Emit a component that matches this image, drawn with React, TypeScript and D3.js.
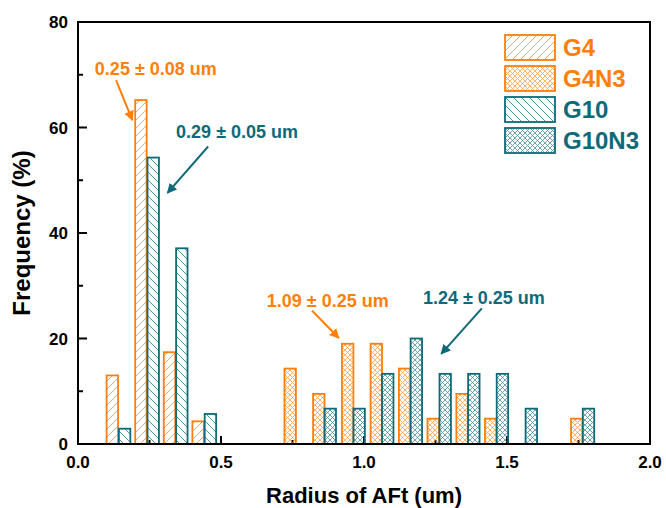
import React from "react";
import * as d3 from "d3";

// Histogram of AFt crystal radius, four mixes
const G4_X = [0.12, 0.22, 0.32, 0.42];
const G4_Y = [13.0, 65.2, 17.4, 4.3];
const G10_X = [0.163, 0.263, 0.363, 0.463];
const G10_Y = [2.9, 54.3, 37.1, 5.7];
const G4N3_X = [0.742, 0.842, 0.943, 1.043, 1.142, 1.242, 1.343, 1.443, 1.744];
const G4N3_Y = [14.3, 9.5, 19.0, 19.0, 14.3, 4.8, 9.5, 4.8, 4.8];
const G10N3_X = [0.882, 0.983, 1.083, 1.183, 1.284, 1.384, 1.484, 1.585, 1.785];
const G10N3_Y = [6.7, 6.7, 13.3, 20.0, 13.3, 13.3, 13.3, 6.7, 6.7];

const X_TICKS = [0, 0.5, 1.0, 1.5, 2.0];
const X_MINOR = [0.25, 0.75, 1.25, 1.75];
const Y_TICKS = [0, 20, 40, 60, 80];
const Y_MINOR = [10, 30, 50, 70];

const SERIES_NAMES = ["G4", "G4N3", "G10", "G10N3"];
const ANNOTATIONS = [
  { text: "0.25 \u00B1 0.08 um", series: "G4", tx: 0.059, ty: 70.0, from: [0.133, 69.0], to: [0.19, 61.4] },
  { text: "0.29 \u00B1 0.05 um", series: "G10", tx: 0.343, ty: 58.0, from: [0.455, 56.4], to: [0.313, 47.6] },
  { text: "1.09 \u00B1 0.25 um", series: "G4N3", tx: 0.66, ty: 26.0, from: [0.818, 25.3], to: [0.912, 20.1] },
  { text: "1.24 \u00B1 0.25 um", series: "G10N3", tx: 1.206, ty: 26.5, from: [1.412, 25.7], to: [1.27, 17.1] },
];

const ORANGE = "#FF7F0A";
const TEAL = "#0E6A79";
const BAR_W = 0.04;

const W = 666;
const H = 508;
const FONT = "'Liberation Sans', Arial, sans-serif";

export default function App() {
  const x = d3.scaleLinear().domain([0, 2]).range([78, 650]);
  const y = d3.scaleLinear().domain([0, 80]).range([444, 22]);

  const series = [
    { name: "G4", xs: G4_X, ys: G4_Y, color: ORANGE, fill: "url(#hatchG4)" },
    { name: "G10", xs: G10_X, ys: G10_Y, color: TEAL, fill: "url(#hatchG10)" },
    { name: "G4N3", xs: G4N3_X, ys: G4N3_Y, color: ORANGE, fill: "url(#crossG4N3)" },
    { name: "G10N3", xs: G10N3_X, ys: G10N3_Y, color: TEAL, fill: "url(#crossG10N3)" },
  ];
  const colorOf: Record<string, string> = { G4: ORANGE, G4N3: ORANGE, G10: TEAL, G10N3: TEAL };
  const fillOf: Record<string, string> = {
    G4: "url(#hatchG4)",
    G4N3: "url(#crossG4N3)",
    G10: "url(#hatchG10)",
    G10N3: "url(#crossG10N3)",
  };
  const bw = x(BAR_W) - x(0);

  return (
    <svg
      width={W}
      height={H}
      style={{ position: "absolute", left: 0, top: 0, background: "#fff" }}
      fontFamily={FONT}
    >
      <defs>
        <pattern id="hatchG4" patternUnits="userSpaceOnUse" width="8" height="8">
          <path d="M-2,2 L2,-2 M0,8 L8,0 M6,10 L10,6" stroke={ORANGE} strokeWidth="0.9" opacity="0.8" />
        </pattern>
        <pattern id="hatchG10" patternUnits="userSpaceOnUse" width="8" height="8">
          <path d="M-2,6 L2,10 M0,0 L8,8 M6,-2 L10,2" stroke={TEAL} strokeWidth="0.9" opacity="0.8" />
        </pattern>
        <pattern id="crossG4N3" patternUnits="userSpaceOnUse" width="5" height="5">
          <path d="M0,0 L5,5 M5,0 L0,5" stroke={ORANGE} strokeWidth="0.8" opacity="0.75" />
        </pattern>
        <pattern id="crossG10N3" patternUnits="userSpaceOnUse" width="5" height="5">
          <path d="M0,0 L5,5 M5,0 L0,5" stroke={TEAL} strokeWidth="0.8" opacity="0.75" />
        </pattern>
        <marker id="arrOrange" viewBox="0 0 10 10" refX="9" refY="5" markerWidth="5" markerHeight="5" orient="auto">
          <path d="M0,0 L10,5 L0,10 z" fill={ORANGE} />
        </marker>
        <marker id="arrTeal" viewBox="0 0 10 10" refX="9" refY="5" markerWidth="5" markerHeight="5" orient="auto">
          <path d="M0,0 L10,5 L0,10 z" fill={TEAL} />
        </marker>
      </defs>

      {/* plot frame */}
      <rect x={x(0)} y={y(80)} width={x(2) - x(0)} height={y(0) - y(80)} fill="none" stroke="#000" strokeWidth={2} />

      {/* ticks, pointing inward */}
      {X_TICKS.map((t) => (
        <line key={"xt" + t} x1={x(t)} x2={x(t)} y1={y(0)} y2={y(0) - 8} stroke="#000" strokeWidth={2} />
      ))}
      {X_MINOR.map((t) => (
        <line key={"xm" + t} x1={x(t)} x2={x(t)} y1={y(0)} y2={y(0) - 4} stroke="#000" strokeWidth={2} />
      ))}
      {Y_TICKS.map((t) => (
        <line key={"yt" + t} x1={x(0)} x2={x(0) + 9} y1={y(t)} y2={y(t)} stroke="#000" strokeWidth={2} />
      ))}
      {Y_MINOR.map((t) => (
        <line key={"ym" + t} x1={x(0)} x2={x(0) + 5} y1={y(t)} y2={y(t)} stroke="#000" strokeWidth={2} />
      ))}

      {/* tick labels */}
      {X_TICKS.map((t) => (
        <text key={"xl" + t} x={x(t)} y={y(0) + 24} textAnchor="middle" fontSize={17} fontWeight="bold" fill="#000">
          {d3.format(".1f")(t)}
        </text>
      ))}
      {Y_TICKS.map((t) => (
        <text key={"yl" + t} x={x(0) - 10} y={y(t) + 6} textAnchor="end" fontSize={17} fontWeight="bold" fill="#000">
          {t}
        </text>
      ))}

      {/* axis titles */}
      <text x={364} y={503} textAnchor="middle" fontSize={22} fontWeight="bold" fill="#000">
        Radius of AFt (um)
      </text>
      <text
        transform={`translate(30,${(y(0) + y(80)) / 2}) rotate(-90)`}
        textAnchor="middle"
        fontSize={24}
        fontWeight="bold"
        fill="#000"
      >
        Frequency (%)
      </text>

      {/* bars */}
      {series.map((s) => (
        <g key={s.name}>
          {s.xs.map((cx, i) => (
            <rect
              key={i}
              x={x(cx) - bw / 2}
              y={y(s.ys[i])}
              width={bw}
              height={y(0) - y(s.ys[i])}
              fill={s.fill}
              stroke={s.color}
              strokeWidth={1.8}
            />
          ))}
        </g>
      ))}

      {/* baseline redrawn over bar bottoms */}
      <line x1={x(0)} x2={x(2)} y1={y(0)} y2={y(0)} stroke="#000" strokeWidth={2} />

      {/* annotations */}
      {ANNOTATIONS.map((a) => {
        const c = colorOf[a.series];
        return (
          <g key={a.text}>
            <text x={x(a.tx)} y={y(a.ty)} fontSize={18} fontWeight="bold" fill={c}>
              {a.text}
            </text>
            <line
              x1={x(a.from[0])}
              y1={y(a.from[1])}
              x2={x(a.to[0])}
              y2={y(a.to[1])}
              stroke={c}
              strokeWidth={2}
              markerEnd={c === ORANGE ? "url(#arrOrange)" : "url(#arrTeal)"}
            />
          </g>
        );
      })}

      {/* legend */}
      {SERIES_NAMES.map((n, i) => (
        <g key={n} transform={`translate(505,${35 + i * 31})`}>
          <rect x={0} y={0} width={50} height={25} fill={fillOf[n]} stroke={colorOf[n]} strokeWidth={1.8} />
          <text x={58} y={21} fontSize={24} fontWeight="bold" fill={colorOf[n]}>
            {n}
          </text>
        </g>
      ))}
    </svg>
  );
}
